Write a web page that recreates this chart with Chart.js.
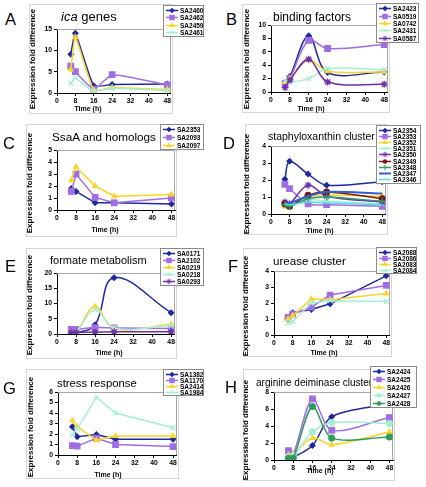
<!DOCTYPE html>
<html><head><meta charset="utf-8">
<script src="https://cdn.jsdelivr.net/npm/chart.js@4.4.0/dist/chart.umd.min.js"></script>
<style>
html,body{margin:0;padding:0;background:#fff}
body{width:426px;height:487px;position:relative;overflow:hidden;font-family:"Liberation Sans",Arial,sans-serif;color:#000}
.box{position:absolute;border:1px solid #d6d6d6;box-sizing:border-box}
.cv{position:absolute}
.letter{position:absolute;font-size:16.5px;line-height:1;white-space:nowrap}
.ptitle{position:absolute;line-height:1;white-space:nowrap}
.ytitle{position:absolute;font-size:8px;font-weight:bold;line-height:1;white-space:nowrap;transform:translate(-50%,-50%) rotate(-90deg)}
.xtitle{position:absolute;font-size:7px;font-weight:bold;line-height:1;white-space:nowrap;transform:translate(-50%,-50%)}
.legend{position:absolute;background:#fff;border:1px solid #8a8a8a;box-sizing:border-box;padding:1px 0 0 2px;z-index:5;overflow:hidden}
.li{display:flex;align-items:center;font-size:6.5px;font-weight:bold;white-space:nowrap}
.li canvas{margin-right:2px}
</style></head>
<body>
<script>
// ---------- data ----------
const hours = [6, 8, 16, 24, 48];
const xTickValues = [0, 8, 16, 24, 32, 40, 48];

const genesA = ['SA2460', 'SA2462', 'SA2459', 'SA2461'];
const valuesA = [
  [9.1, 14.0, 1.7, 2.0, 2.1],
  [6.3, 5.0, 0.9, 4.3, 1.9],
  [5.5, 13.1, 0.6, 1.3, 0.8],
  [2.3, 3.5, 0.4, 1.1, 0.6]
];
const genesB = ['SA2423', 'SA0519', 'SA0742', 'SA2431', 'SA0587'];
const valuesB = [
  [1.4, 2.3, 8.4, 2.9, 3.0],
  [1.3, 2.0, 7.7, 6.5, 7.1],
  [1.5, 2.0, 4.8, 3.1, 3.0],
  [1.7, 1.5, 2.0, 3.5, 3.3],
  [0.65, 1.8, 4.9, 1.5, 1.15]
];
const genesC = ['SA2353', 'SA2093', 'SA2097'];
const valuesC = [
  [1.8, 1.55, 0.6, 0.6, 0.5],
  [1.55, 3.0, 1.05, 0.6, 1.0],
  [2.5, 3.6, 2.0, 1.15, 1.3]
];
const genesD = ['SA2354', 'SA2353', 'SA2352', 'SA2351', 'SA2350', 'SA2349', 'SA2348', 'SA2347', 'SA2346'];
const valuesD = [
  [2.05, 3.1, 2.35, 1.7, 1.9],
  [1.75, 1.5, 0.6, 0.55, 0.45],
  [0.45, 0.4, 1.0, 1.1, 1.05],
  [0.6, 0.5, 0.85, 0.75, 0.6],
  [0.7, 0.6, 1.7, 1.05, 0.7],
  [0.6, 0.45, 1.1, 1.3, 0.9],
  [0.55, 0.45, 0.9, 1.0, 0.75],
  [0.7, 0.65, 1.05, 1.3, 1.2],
  [0.6, 0.55, 0.7, 0.65, 0.55]
];
const genesE = ['SA0171', 'SA2102', 'SA0219', 'SA0218', 'SA0293'];
const valuesE = [
  [0.3, 0.3, 3.0, 18.5, 7.0],
  [1.5, 1.5, 2.1, 2.0, 1.8],
  [0.3, 0.5, 9.0, 1.8, 3.2],
  [0.5, 0.5, 8.0, 2.0, 2.8],
  [0.5, 0.5, 0.6, 0.7, 0.7]
];
const genesF = ['SA2088', 'SA2086', 'SA2083', 'SA2084'];
const valuesF = [
  [1.0, 1.4, 1.6, 1.95, 3.7],
  [1.1, 1.3, 1.75, 2.5, 3.1],
  [1.0, 1.2, 2.25, 2.2, 2.6],
  [0.75, 0.85, 2.0, 2.15, 2.1]
];
const genesG = ['SA1382', 'SA1170', 'SA2414', 'SA1984'];
const valuesG = [
  [2.7, 1.75, 1.95, 1.5, 1.5],
  [0.9, 0.85, 1.6, 1.0, 0.8],
  [3.3, 2.7, 1.4, 1.8, 1.8],
  [1.9, 2.5, 5.5, 4.0, 2.6]
];
const genesH = ['SA2424', 'SA2425', 'SA2426', 'SA2427', 'SA2428'];
const valuesH = [
  [0.2, 0.3, 1.7, 5.1, 6.6],
  [1.1, 0.7, 7.2, 3.5, 5.0],
  [0.6, 0.7, 2.6, 1.8, 3.3],
  [0.3, 0.5, 3.3, 4.4, 4.3],
  [0.2, 0.2, 6.3, 2.6, 2.7]
];

// ---------- styles ----------
const STY = {
  blue:   {color:'#1e2a9c', point:'rectRot', r:3.5, w:1.5},
  purple: {color:'#a06ee4', point:'rect', r:4.8, w:1.5},
  yellow: {color:'#f9d42a', point:'triangle', r:4, w:1.5},
  cyan:   {color:'#a4eed6', point:'crossRot', r:3.5, w:1.5},
  aster:  {color:'#6c2fa8', point:'star', r:3.5, w:1.5},
  red:    {color:'#7a1414', point:'circle', r:3.5, w:1.5},
  green:  {color:'#2f9c66', point:'cross', r:3.5, w:1.5},
  blue2:  {color:'#2f5fd3', point:false, r:0, w:2},
  cyan2:  {color:'#55dde6', point:false, r:0, w:1.5},
  cyanC:  {color:'#a6ecd0', point:'circle', r:3.5, w:1.5},
  greenC: {color:'#2f9a5e', point:'circle', r:3.5, w:1.5}
};

const panels = [
  {L:'A', title:'<i>ica</i> genes', tsize:13, tx:61, tb:20.7, lx:5, lb:25,
   genes:genesA, values:valuesA, sty:['blue','purple','yellow','cyan'], yMax:15, yStep:5, tension:0.15,
   plot:[57,28,171,93], box:[29,4,173,114], leg:[163,5,41,32], yt:[33,59], xt:[88,108]},
  {L:'B', title:'binding factors', tsize:12, tx:273, tb:21.5, lx:226, lb:25,
   genes:genesB, values:valuesB, sty:['blue','purple','yellow','cyan','aster'], yMax:10, yStep:2, tension:0.35,
   plot:[271,24,388,92], box:[242,4,390,113], leg:[376,3,43,40], yt:[247,59], xt:[311,108]},
  {L:'C', title:'SsaA and homologs', tsize:11.7, tx:52, tb:141, lx:3, lb:148.7,
   genes:genesC, values:valuesC, sty:['blue','purple','yellow'], yMax:5, yStep:1, tension:0,
   plot:[57,149,175,210], box:[26,124,177,237], leg:[160,124,44,26], yt:[30,183], xt:[105,229]},
  {L:'D', title:'staphyloxanthin cluster', tsize:10.5, tx:268, tb:140, lx:223, lb:148.7,
   genes:genesD, values:valuesD, sty:['blue','purple','yellow','cyan','aster','red','green','blue2','cyan2'], yMax:4, yStep:1, tension:0.35,
   plot:[271,145,386,214], box:[245,124,388,235], leg:[376,125,45,59], yt:[247,184], xt:[320,230]},
  {L:'E', title:'formate metabolism', tsize:11, tx:50, tb:264, lx:5, lb:272.3,
   genes:genesE, values:valuesE, sty:['blue','purple','yellow','cyan','aster'], yMax:20, yStep:5, tension:0.4,
   plot:[57,272,175,334], box:[26,248,177,359], leg:[160,248,44,38], yt:[30,305], xt:[109,352]},
  {L:'F', title:'urease cluster', tsize:11.6, tx:273, tb:264.5, lx:228, lb:272.3,
   genes:genesF, values:valuesF, sty:['blue','purple','yellow','cyan'], yMax:4, yStep:1, tension:0,
   plot:[274,270,390,335], box:[243,248,392,357], leg:[376,247,41,27], yt:[246,306], xt:[324,352]},
  {L:'G', title:'stress response', tsize:11.3, tx:57, tb:387.5, lx:3, lb:394.3,
   genes:genesG, values:valuesG, sty:['blue','purple','yellow','cyan'], yMax:6, yStep:1, tension:0,
   plot:[58,391,177,455], box:[26,369,179,479], leg:[163,369,41,27], yt:[31,427], xt:[108,474]},
  {L:'H', title:'arginine deiminase cluster', tsize:10, tx:256, tb:386, lx:225, lb:392.7,
   genes:genesH, values:valuesH, sty:['blue','purple','yellow','cyanC','greenC'], yMax:8, yStep:2, tension:0.3,
   plot:[274,391,393,460], box:[243,369,395,481], leg:[370,366,47,42], yt:[246,430], xt:[320,470]}
];

const framePlugin = {
  id:'frame',
  beforeDatasetsDraw(chart){
    const {ctx, chartArea:a} = chart;
    ctx.save();
    ctx.strokeStyle = '#a8a8a8'; ctx.lineWidth = 1;
    ctx.beginPath();
    ctx.moveTo(a.left, Math.round(a.top)+0.5);
    ctx.lineTo(Math.round(a.right)-0.5, Math.round(a.top)+0.5);
    ctx.lineTo(Math.round(a.right)-0.5, a.bottom);
    ctx.stroke();
    ctx.restore();
  }
};

function drawMarker(ctx, s, x, y){
  const st = STY[s];
  ctx.strokeStyle = st.color; ctx.fillStyle = st.color; ctx.lineWidth = st.w;
  ctx.beginPath(); ctx.moveTo(0, y); ctx.lineTo(12, y); ctx.stroke();
  if(!st.point) return;
  const r = st.r * 0.8;
  ctx.lineWidth = 1;
  ctx.beginPath();
  switch(st.point){
    case 'rectRot': ctx.moveTo(x, y-r); ctx.lineTo(x+r, y); ctx.lineTo(x, y+r); ctx.lineTo(x-r, y); ctx.closePath(); ctx.fill(); break;
    case 'rect': { const h = r/Math.SQRT2; ctx.fillRect(x-h, y-h, 2*h, 2*h); break; }
    case 'triangle': ctx.moveTo(x, y-r); ctx.lineTo(x+r*0.87, y+r*0.5); ctx.lineTo(x-r*0.87, y+r*0.5); ctx.closePath(); ctx.fill(); break;
    case 'circle': ctx.arc(x, y, r*0.8, 0, Math.PI*2); ctx.fill(); break;
    case 'crossRot': ctx.moveTo(x-r*0.7,y-r*0.7); ctx.lineTo(x+r*0.7,y+r*0.7); ctx.moveTo(x+r*0.7,y-r*0.7); ctx.lineTo(x-r*0.7,y+r*0.7); ctx.stroke(); break;
    case 'cross': ctx.moveTo(x-r,y); ctx.lineTo(x+r,y); ctx.moveTo(x,y-r); ctx.lineTo(x,y+r); ctx.stroke(); break;
    case 'star': ctx.moveTo(x-r,y); ctx.lineTo(x+r,y); ctx.moveTo(x,y-r); ctx.lineTo(x,y+r);
      ctx.moveTo(x-r*0.7,y-r*0.7); ctx.lineTo(x+r*0.7,y+r*0.7); ctx.moveTo(x+r*0.7,y-r*0.7); ctx.lineTo(x-r*0.7,y+r*0.7); ctx.stroke(); break;
  }
}

function el(tag, cls, css, html){
  const e = document.createElement(tag);
  if(cls) e.className = cls;
  if(css) Object.assign(e.style, css);
  if(html !== undefined) e.innerHTML = html;
  document.body.appendChild(e);
  return e;
}

const tickFont = {family:'"Liberation Sans", Arial, sans-serif', size:6.8, weight:'bold'};

panels.forEach(p => {
  const [bl, bt, br, bb] = p.box;
  el('div', 'box', {left:bl+'px', top:bt+'px', width:(br-bl)+'px', height:(bb-bt)+'px'});
  const [pl, pt, pr, pb] = p.plot;
  const cl = bl + 1, ct = pt - 5, cr = pr + 5, cb = pb + 12;
  const W = cr - cl, H = cb - ct;
  const wrap = el('div', 'cv', {left:cl+'px', top:ct+'px', width:W+'px', height:H+'px'});
  const cv = document.createElement('canvas');
  cv.width = W; cv.height = H; cv.style.width = W+'px'; cv.style.height = H+'px';
  wrap.appendChild(cv);

  const datasets = p.genes.map((g, i) => {
    const st = STY[p.sty[i]];
    return {
      label: g,
      data: hours.map((h, k) => ({x:h, y:p.values[i][k]})),
      borderColor: st.color,
      backgroundColor: st.color,
      borderWidth: st.w,
      pointStyle: st.point || 'circle',
      pointRadius: st.point ? st.r : 0,
      pointBorderWidth: (st.point==='crossRot'||st.point==='star'||st.point==='cross') ? 1.3 : 0,
      pointBorderColor: st.color,
      pointBackgroundColor: st.color,
      tension: p.tension,
      order: -i
    };
  });

  new Chart(cv, {
    type:'line',
    data:{datasets},
    plugins:[framePlugin],
    options:{
      responsive:false, animation:false, devicePixelRatio:1,
      layout:{padding:{left:0, top:5, right:5, bottom:0}},
      plugins:{legend:{display:false}, tooltip:{enabled:false}, title:{display:false}},
      scales:{
        x:{type:'linear', min:0, max:49.5, offset:false,
           afterBuildTicks(s){ s.ticks = xTickValues.map(v => ({value:v})); },
           afterFit(s){ s.height = cb - pb; },
           grid:{display:true, drawOnChartArea:false, drawTicks:true, tickLength:3, color:'#000', lineWidth:1},
           border:{display:true, color:'#000', width:1},
           ticks:{font:tickFont, color:'#000', padding:1, autoSkip:false, maxRotation:0}
        },
        y:{type:'linear', min:0, max:p.yMax,
           afterFit(s){ s.width = pl - cl; },
           grid:{display:true, drawOnChartArea:false, drawTicks:true, tickLength:3, color:'#000', lineWidth:1},
           border:{display:true, color:'#000', width:1},
           ticks:{font:tickFont, color:'#000', padding:2, stepSize:p.yStep, autoSkip:false}
        }
      }
    }
  });

  // texts
  el('div', 'letter', {left:p.lx+'px', top:(p.lb - 0.8465*16.5)+'px'}, p.L);
  el('div', 'ptitle', {left:p.tx+'px', top:(p.tb - 0.8465*p.tsize)+'px', fontSize:p.tsize+'px'}, p.title);
  el('div', 'ytitle', {left:p.yt[0]+'px', top:p.yt[1]+'px'}, 'Expression fold difference');
  el('div', 'xtitle', {left:p.xt[0]+'px', top:p.xt[1]+'px'}, 'Time (h)');

  // legend
  const [lx, ly, lw, lh] = p.leg;
  const lg = el('div', 'legend', {left:lx+'px', top:ly+'px', width:lw+'px', height:lh+'px'});
  const rowH = (lh - 3) / p.genes.length;
  p.genes.forEach((g, i) => {
    const row = document.createElement('div');
    row.className = 'li'; row.style.height = rowH+'px';
    const sw = document.createElement('canvas');
    sw.width = 12; sw.height = 7; sw.style.width = '12px'; sw.style.height = '7px';
    sw.style.flex = 'none';
    drawMarker(sw.getContext('2d'), p.sty[i], 6, 3.5);
    row.appendChild(sw);
    const t = document.createElement('span'); t.textContent = g; row.appendChild(t);
    lg.appendChild(row);
  });
});
</script>
</body></html>
